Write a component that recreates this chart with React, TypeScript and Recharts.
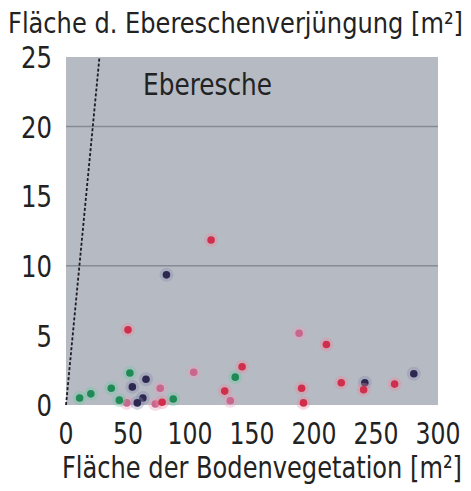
import React from 'react';
import { ScatterChart, Scatter, XAxis, YAxis, ReferenceLine } from 'recharts';

// point groups (x = Bodenvegetation, y = Ebereschenverjüngung, m²)
const redPoints = [
  { x: 117, y: 11.85 }, { x: 50, y: 5.4 }, { x: 210, y: 4.35 }, { x: 142, y: 2.75 },
  { x: 128, y: 1.0 }, { x: 190, y: 1.2 }, { x: 191.5, y: 0.15 }, { x: 222, y: 1.6 },
  { x: 240, y: 1.1 }, { x: 265, y: 1.5 }, { x: 77.5, y: 0.2 },
];
const pinkPoints = [
  { x: 188, y: 5.15 }, { x: 103, y: 2.35 }, { x: 76, y: 1.2 }, { x: 49, y: 0.15 },
  { x: 132.5, y: 0.3 }, { x: 72, y: 0.07 },
];
const greenPoints = [
  { x: 11, y: 0.5 }, { x: 20, y: 0.8 }, { x: 36.5, y: 1.2 }, { x: 43, y: 0.35 },
  { x: 51.5, y: 2.3 }, { x: 86.5, y: 0.43 }, { x: 136.5, y: 2.0 },
];
const darkPoints = [
  { x: 81, y: 9.35 }, { x: 64.5, y: 1.85 }, { x: 53.5, y: 1.3 }, { x: 62, y: 0.5 },
  { x: 57.5, y: 0.15 }, { x: 241, y: 1.6 }, { x: 280.5, y: 2.25 },
];

const xTicks = [0, 50, 100, 150, 200, 250, 300];
const yTicks = [0, 5, 10, 15, 20, 25];
const gridValues = [10, 20];
const diagonal = [{ x: 0, y: 0 }, { x: 27, y: 25 }];

const FONT = '"DejaVu Sans Condensed", "Liberation Sans Narrow", sans-serif';
const INK = '#222';

const dot = (core: string, halo: string) => (props: any) => {
  const { cx, cy } = props;
  if (cx == null || cy == null) return <g />;
  return (
    <g>
      <circle cx={cx} cy={cy} r={7} fill={halo} fillOpacity={0.35} />
      <circle cx={cx} cy={cy} r={3.8} fill={core} />
    </g>
  );
};

// narrow tick text, width fixed per digit
const XTick = (props: any) => {
  const { x, y, payload } = props;
  const s = String(payload.value);
  return (
    <text x={x} y={y} dy="0.73em" textAnchor="middle" fontSize={30} fill={INK} fontFamily={FONT}
      textLength={s.length * 15} lengthAdjust="spacingAndGlyphs">{s}</text>
  );
};
const YTick = (props: any) => {
  const { x, y, payload } = props;
  const s = String(payload.value);
  return (
    <text x={x} y={y} dy="0.36em" textAnchor="end" fontSize={31} fill={INK} fontFamily={FONT}
      textLength={s.length * 15.5} lengthAdjust="spacingAndGlyphs">{s}</text>
  );
};

export default function App() {
  return (
    <div style={{ position: 'absolute', left: 0, top: 0, width: 471, height: 491, background: '#fff' }}>
      <ScatterChart width={471} height={491} margin={{ top: 57, right: 33, bottom: 46, left: 0 }}>
        <rect x={66} y={57} width={372} height={348} fill="#b5bac3" />
        <XAxis
          type="number" dataKey="x" domain={[0, 300]} ticks={xTicks} interval={0}
          axisLine={false} tickLine={false} tickSize={0} tickMargin={17} height={40}
          tick={<XTick />}
        />
        <YAxis
          type="number" dataKey="y" domain={[0, 25]} ticks={yTicks} interval={0}
          axisLine={false} tickLine={false} tickSize={0} tickMargin={14} width={66}
          tick={<YTick />}
        />
        {gridValues.map(v => (
          <ReferenceLine key={v} y={v} stroke="#868b95" strokeWidth={1.5} />
        ))}
        <ReferenceLine segment={diagonal} stroke="#1c1c28" strokeWidth={1.8} strokeDasharray="3 2" />
        <Scatter data={pinkPoints} shape={dot('#c8668c', '#e7a0bd')} isAnimationActive={false} />
        <Scatter data={greenPoints} shape={dot('#1f8a55', '#6cc9a0')} isAnimationActive={false} />
        <Scatter data={darkPoints} shape={dot('#2c2850', '#8a8ab0')} isAnimationActive={false} />
        <Scatter data={redPoints} shape={dot('#cf2f4c', '#f08aa0')} isAnimationActive={false} />
      </ScatterChart>
      <svg width={471} height={491} style={{ position: 'absolute', left: 0, top: 0, pointerEvents: 'none' }}
        fontFamily={FONT} fill={INK}>
        <text x={8} y={33} fontSize={28} textLength={455} lengthAdjust="spacingAndGlyphs">
          Fläche d. Ebereschenverjüngung [m²]
        </text>
        <text x={143} y={95} fontSize={30} textLength={129} lengthAdjust="spacingAndGlyphs">Eberesche</text>
        <text x={62} y={478} fontSize={31} textLength={400} lengthAdjust="spacingAndGlyphs">
          Fläche der Bodenvegetation [m²]
        </text>
      </svg>
    </div>
  );
}
